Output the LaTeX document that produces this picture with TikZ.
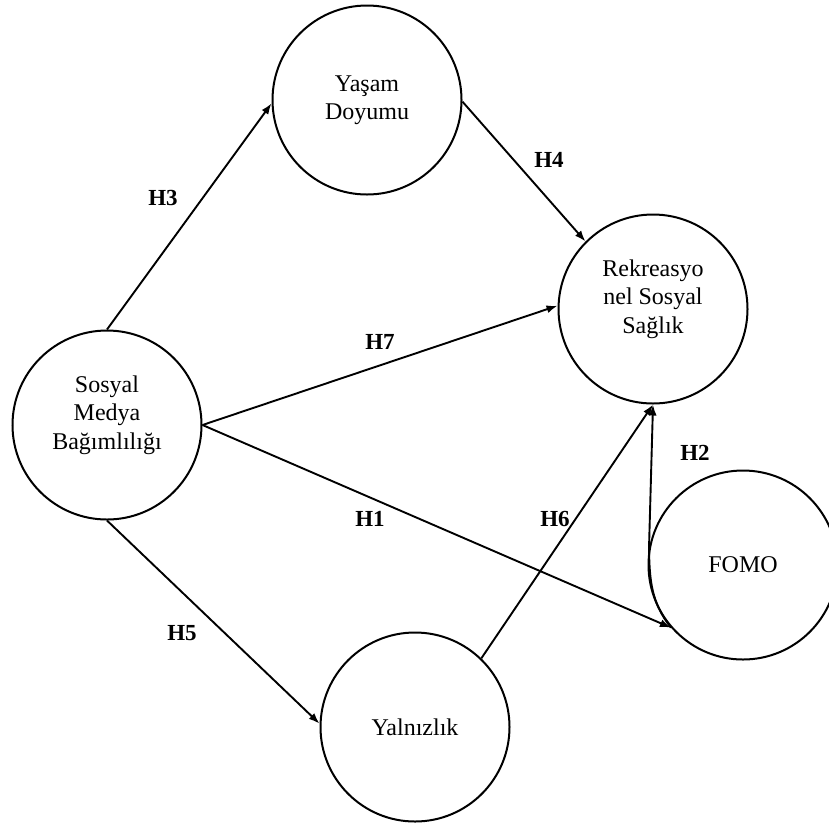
\documentclass[tikz,border=0pt]{standalone}
\usepackage{fontspec}
\setmainfont{Liberation Serif}
\usetikzlibrary{arrows.meta}
\tikzset{
  circ/.style={draw, circle, line width=2pt, minimum size=189pt, inner sep=0pt},
  txt/.style={align=center, font=\fontsize{24}{28.5}\selectfont, inner sep=0pt},
  hyp/.style={font=\fontsize{23}{26}\selectfont\bfseries, inner sep=0pt},
  conn/.style={line width=1.9pt, -{Latex[length=11pt,width=8pt]}}
}
\begin{document}
\begin{tikzpicture}[x=1pt,y=-1pt]
\clip (0,0) rectangle (829,823);
\useasboundingbox (0,0) rectangle (829,823);
% circles
\node[circ] (yd) at (367,100) {};
\node[circ] (rek) at (653,309) {};
\node[circ] (smb) at (107,425) {};
\node[circ] (fomo) at (743,565) {};
\node[circ] (yal) at (415,727) {};
% texts
\node[txt] (ydt) at (yd.center) {Yaşam\\Doyumu};
\node[txt] (rekt) at ([yshift=10pt]rek.center) {Rekreasyo\\nel Sosyal\\Sağlık};
\node[txt] (smbt) at ([yshift=10pt]smb.center) {Sosyal\\Medya\\Bağımlılığı};
\node[txt] (fomot) at (fomo.center) {FOMO};
\node[txt] (yalt) at (yal.center) {Yalnızlık};
% connectors
\draw[conn] (smb.north) -- (yd.182);
\draw[conn] (yd.-1) -- (rek.135);
\draw[conn] (smb.east) -- (rek.178);
\draw[conn] (smb.east) -- (fomo.221);
\draw[conn] (smb.south) -- (yal.178);
\draw[conn] (yal.46) -- (rek.south);
\coordinate (bend) at (649,548);
\draw[conn] (fomo.221) to[out=128,in=-89] (bend) -- (rek.south);
% labels
\node[hyp] (h3) at (163,198) {H3};
\node[hyp] (h4) at (549,160) {H4};
\node[hyp] (h7) at (380,342) {H7};
\node[hyp] (h1) at (370,519) {H1};
\node[hyp] (h6) at (555,519) {H6};
\node[hyp] (h5) at (182,633) {H5};
\node[hyp] (h2) at (695,453) {H2};
\end{tikzpicture}
\end{document}
